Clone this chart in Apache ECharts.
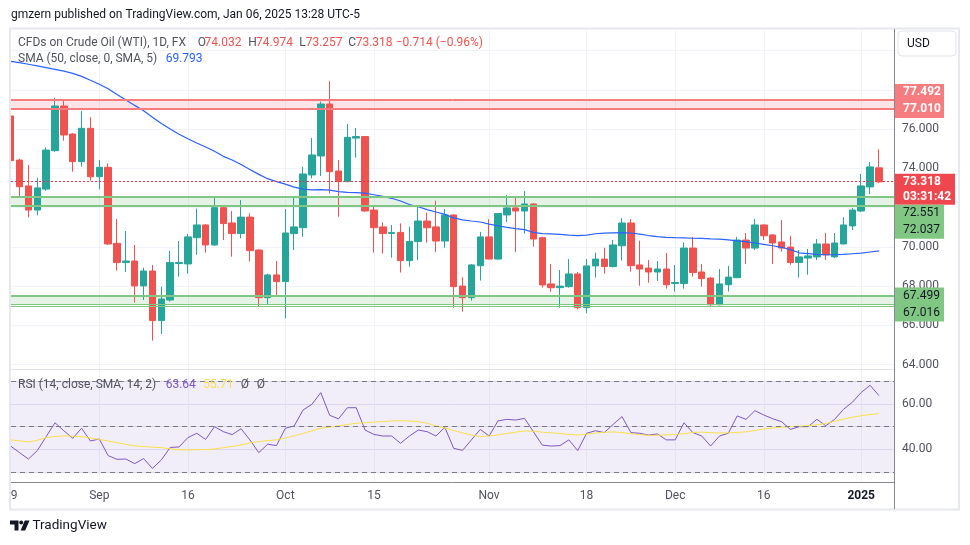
<!DOCTYPE html>
<html><head><meta charset="utf-8">
<script src="https://cdn.jsdelivr.net/npm/echarts/dist/echarts.min.js"></script>
<style>html,body{margin:0;padding:0;background:#fff}#c{width:970px;height:545px}</style>
</head><body><div id="c"></div>
<script>
// ---------------- DATA ----------------
const dates = [
'2024-08-19','2024-08-20','2024-08-21','2024-08-22','2024-08-23','2024-08-26','2024-08-27','2024-08-28','2024-08-29','2024-08-30',
'2024-09-02','2024-09-03','2024-09-04','2024-09-05','2024-09-06','2024-09-09','2024-09-10','2024-09-11','2024-09-12','2024-09-13',
'2024-09-16','2024-09-17','2024-09-18','2024-09-19','2024-09-20','2024-09-23','2024-09-24','2024-09-25','2024-09-26','2024-09-27',
'2024-09-30','2024-10-01','2024-10-02','2024-10-03','2024-10-04','2024-10-07','2024-10-08','2024-10-09','2024-10-10','2024-10-11',
'2024-10-14','2024-10-15','2024-10-16','2024-10-17','2024-10-18','2024-10-21','2024-10-22','2024-10-23','2024-10-24','2024-10-25',
'2024-10-28','2024-10-29','2024-10-30','2024-10-31','2024-11-01','2024-11-04','2024-11-05','2024-11-06','2024-11-07','2024-11-08',
'2024-11-11','2024-11-12','2024-11-13','2024-11-14','2024-11-15','2024-11-18','2024-11-19','2024-11-20','2024-11-21','2024-11-22',
'2024-11-25','2024-11-26','2024-11-27','2024-11-28','2024-11-29','2024-12-02','2024-12-03','2024-12-04','2024-12-05','2024-12-06',
'2024-12-09','2024-12-10','2024-12-11','2024-12-12','2024-12-13','2024-12-16','2024-12-17','2024-12-18','2024-12-19','2024-12-20',
'2024-12-23','2024-12-24','2024-12-26','2024-12-27','2024-12-30','2024-12-31','2025-01-02','2025-01-03','2025-01-06'];

const opens = [
76.68,74.43,73.11,71.88,72.95,74.91,77.19,75.76,74.35,76.05,
73.58,74.06,70.18,69.20,69.28,68.01,68.77,66.24,67.29,69.15,
69.13,70.47,71.12,70.10,72.00,71.22,70.68,71.52,69.84,67.41,
68.57,68.23,70.68,70.98,73.67,74.64,77.29,73.87,73.33,75.55,
75.63,71.88,71.02,70.68,70.74,69.30,70.27,71.32,71.02,70.30,
71.63,68.00,67.41,69.04,70.51,69.38,71.63,71.99,71.83,72.19,
70.47,68.11,67.92,67.97,68.62,66.90,69.03,69.38,69.00,70.06,
71.22,69.08,68.92,68.72,68.87,68.13,68.13,69.94,68.72,68.41,
67.05,68.07,68.43,70.35,69.94,71.12,70.61,70.25,69.99,69.20,
69.43,69.49,70.15,69.49,70.15,71.07,71.83,73.06,74.032];
const highs = [
76.90,74.50,74.18,73.52,75.08,77.61,77.50,75.80,76.93,76.61,
74.43,74.26,71.42,70.81,70.10,68.94,69.08,67.97,69.79,70.30,
70.66,71.95,71.15,72.51,72.05,71.83,72.39,71.71,69.88,68.63,
69.28,71.93,72.51,74.09,75.56,77.41,78.46,74.43,76.27,76.07,
75.66,72.09,71.25,71.12,71.20,71.03,72.05,71.75,72.36,71.93,
71.66,68.45,69.13,70.76,71.42,71.72,72.65,72.60,72.85,72.22,
70.52,69.13,68.82,69.38,68.72,69.38,69.71,69.96,70.35,71.47,
71.42,70.32,69.33,69.28,69.69,69.08,70.22,70.51,69.13,68.46,
68.87,69.03,70.51,70.71,71.42,71.15,70.64,71.37,70.56,69.84,
69.89,70.40,70.71,70.71,71.52,71.99,73.72,74.33,74.974];
const lows = [
74.18,72.56,71.51,71.61,72.87,74.85,75.42,73.84,74.09,73.38,
72.94,70.10,68.79,68.72,67.16,67.29,65.22,65.56,67.21,68.48,
68.64,69.59,69.71,70.05,70.35,69.50,70.44,69.25,66.95,67.04,
67.55,66.36,69.84,70.52,73.50,73.62,72.73,71.54,73.30,74.55,
71.80,69.71,69.66,69.45,68.69,68.99,69.33,70.22,69.74,69.96,
66.90,66.70,67.26,68.28,69.36,69.35,71.27,69.74,70.68,70.01,
67.92,67.72,66.90,67.92,66.81,66.61,68.43,68.64,68.95,69.30,
68.74,68.02,68.17,68.26,67.87,67.72,67.87,68.48,67.97,66.95,
67.02,67.72,68.40,69.13,69.84,70.35,69.13,69.76,69.09,68.43,
68.58,69.33,69.33,69.43,70.13,70.86,71.78,72.70,73.257];
const closes = [
74.40,73.07,71.88,73.01,74.94,77.19,75.71,74.35,76.05,73.58,
74.06,70.15,69.20,69.28,68.01,68.77,66.24,67.34,69.20,69.20,
70.51,71.12,70.10,72.00,71.19,70.68,71.52,69.81,67.41,68.57,
68.23,70.71,71.02,73.72,74.69,77.29,73.84,73.33,75.59,75.63,
71.83,70.98,70.68,70.74,69.30,70.28,71.32,70.98,70.30,71.63,
67.97,67.41,69.08,70.51,69.38,71.70,71.99,71.83,72.19,70.40,
68.06,67.92,68.00,68.62,66.90,69.03,69.38,69.00,70.10,71.22,
69.04,68.87,68.72,68.87,68.07,68.18,69.94,68.69,68.38,67.05,
68.11,68.46,70.35,69.94,71.12,70.57,70.20,69.94,69.20,69.49,
69.54,70.15,69.59,70.20,71.12,71.88,73.11,74.08,73.318];

const sma50 = [
79.47,79.40,79.32,79.24,79.15,79.06,78.97,78.85,78.70,78.50,
78.30,78.07,77.78,77.50,77.22,76.95,76.62,76.30,76.02,75.75,
75.52,75.30,75.10,74.88,74.62,74.43,74.20,73.95,73.70,73.48,
73.33,73.20,73.05,72.95,72.91,72.92,72.90,72.82,72.78,72.77,
72.74,72.66,72.58,72.48,72.34,72.16,72.05,71.90,71.78,71.66,
71.48,71.38,71.32,71.27,71.16,71.08,71.00,70.93,70.88,70.74,
70.68,70.66,70.64,70.60,70.58,70.60,70.67,70.70,70.72,70.73,
70.71,70.65,70.58,70.52,70.49,70.47,70.46,70.44,70.43,70.41,
70.40,70.36,70.31,70.27,70.20,70.13,70.06,69.98,69.86,69.70,
69.66,69.62,69.60,69.60,69.62,69.65,69.68,69.74,69.793];

const rsi = [
41.5,38.6,35.8,39.5,45.6,51.7,48.2,44.9,49.3,43.7,
44.6,37.3,35.7,35.8,33.8,36.0,31.7,35.4,40.9,41.1,
45.2,47.1,44.4,50.0,47.8,46.5,49.1,44.2,38.6,42.3,
41.7,49.3,50.3,57.3,59.8,64.9,55.0,53.4,58.3,58.3,
48.5,46.6,45.9,45.9,42.7,45.9,48.5,47.8,45.9,49.7,
40.5,39.6,44.2,48.8,45.9,52.5,53.2,52.9,53.6,47.8,
41.9,41.5,41.7,44.2,39.5,47.1,48.2,47.4,51.0,54.4,
47.4,47.1,46.3,46.8,44.2,44.2,51.7,47.4,45.9,41.5,
45.9,47.1,54.7,53.2,57.0,55.1,53.5,52.2,48.8,50.0,
50.0,53.2,50.4,53.2,57.6,60.7,65.0,68.1,63.64];
const rsiMa = [
44.2,43.8,43.3,44.0,45.2,45.7,45.9,45.9,45.6,45.0,
44.4,43.7,43.0,42.2,41.6,41.3,41.0,40.8,40.3,39.9,
39.8,39.9,40.0,40.2,40.8,41.3,42.0,42.9,43.4,43.9,
44.2,45.0,46.0,47.0,48.2,49.3,49.8,50.3,50.9,51.5,
51.7,52.0,52.2,52.5,52.6,52.5,52.2,51.5,50.3,49.4,
48.3,47.3,46.3,45.7,45.9,46.4,47.0,47.6,48.1,48.0,
47.6,47.3,47.0,46.6,46.3,46.7,47.2,47.5,47.7,47.4,
46.9,46.5,46.2,46.2,46.4,46.5,46.9,47.5,47.6,47.4,
47.2,47.3,47.5,47.7,48.3,49.0,49.4,49.8,50.0,50.2,
50.4,50.8,51.4,52.3,53.3,54.1,54.8,55.3,55.71];

const tickDates = ['2024-08-19','2024-09-02','2024-09-16','2024-10-01','2024-10-15','2024-11-01','2024-11-18','2024-12-02','2024-12-16','2025-01-02'];
const tickTexts = ['19','Sep','16','Oct','15','Nov','18','Dec','16','2025'];
const priceLabels = [64, 66, 68, 70, 74, 76];
const rsiLabels = [40, 60];
const rsiLevels = [30, 50, 70];
const resistZone = [77.010, 77.492];
const supportZone1 = [72.037, 72.551];
const supportZone2 = [67.016, 67.499];
const lastPrice = 73.318;
const countdown = '03:31:42';
const ohlcText = {O:'74.032', H:'74.974', L:'73.257', C:'73.318', chg:'\u22120.714 (\u22120.96%)'};
const smaValue = '69.793';
const rsiValue = '63.64', rsiMaValue = '55.71';

// ---------------- CHART ----------------
const FONT = 'Roboto, "Noto Sans", sans-serif';
const cats = dates.concat(['']);
const tickIdx = tickDates.map(d => dates.indexOf(d));
const isTick = (i) => tickIdx.indexOf(i) >= 0;
const candleData = dates.map((d, i) => [opens[i], closes[i], lows[i], highs[i]]);

const RED = '#ef5350', TEAL = '#26a69a', GRID = '#f0f3fa';
const REDZ = '#f77c80', GREENZ = '#81c784';

function zoneArea(z, fill) { return [{yAxis: z[0], itemStyle: {color: fill}}, {yAxis: z[1]}]; }
function hline(v, color, w, type) { return {yAxis: v, lineStyle: {color: color, width: w, type: type || 'solid', opacity: 1}}; }

const chart = echarts.init(document.getElementById('c'), null, {renderer: 'canvas'});
const gridBase = {containLabel: false, outerBoundsMode: 'none'};
const option = {
  animation: false,
  backgroundColor: '#ffffff',
  textStyle: {fontFamily: FONT},
  grid: [
    Object.assign({left: 10.7, right: 82.2, top: 29.3, height: 340}, gridBase),
    Object.assign({left: 11, right: 76, top: 50.7, height: 313.8}, gridBase),
    Object.assign({left: 10.7, right: 82.2, top: 369.3, height: 113}, gridBase),
    Object.assign({left: 11, right: 76, top: 381, height: 91.3}, gridBase)
  ],
  xAxis: [
    {gridIndex: 0, type: 'category', data: cats, boundaryGap: false,
     axisLine: {show: false}, axisTick: {show: false}, axisLabel: {show: false},
     splitLine: {show: true, interval: isTick, lineStyle: {color: GRID, width: 1}}},
    {gridIndex: 1, type: 'value', min: 0, max: 1, offset: 4.8,
     axisLine: {show: true, onZero: false, lineStyle: {color: '#e0e3eb', width: 1}},
     axisTick: {show: false}, axisLabel: {show: false}, splitLine: {show: false}},
    {gridIndex: 2, type: 'category', data: cats, boundaryGap: false,
     axisLine: {show: false}, axisTick: {show: false},
     axisLabel: {show: true, interval: isTick, margin: 8, color: '#50535e', fontSize: 12, fontFamily: FONT,
       formatter: (v, i) => { const k = tickIdx.indexOf(i); if (k < 0) return ''; const t = tickTexts[k]; return t === '2025' ? '{b|' + t + '}' : t; },
       rich: {b: {fontWeight: 'bold', color: '#131722', fontSize: 12, fontFamily: FONT}}},
     splitLine: {show: true, interval: isTick, lineStyle: {color: GRID, width: 1}}},
    {gridIndex: 3, type: 'value', min: 0, max: 1, offset: 10,
     axisLine: {show: true, onZero: false, lineStyle: {color: '#868993', width: 1}},
     axisTick: {show: false}, axisLabel: {show: false}, splitLine: {show: false}}
  ],
  yAxis: [
    {gridIndex: 0, type: 'value', min: 63.755, max: 81.102, show: false},
    {gridIndex: 1, type: 'value', min: 64, max: 80, interval: 2, position: 'right',
     axisLine: {show: false}, axisTick: {show: false},
     axisLabel: {margin: 8, color: '#50535e', fontSize: 12, fontFamily: FONT,
       showMinLabel: true, showMaxLabel: true,
       formatter: v => priceLabels.indexOf(v) >= 0 ? v.toFixed(3) : ''},
     splitLine: {show: true, lineStyle: {color: GRID, width: 1}}},
    {gridIndex: 2, type: 'value', min: 25.619, max: 75.126, show: false},
    {gridIndex: 3, type: 'value', min: 30, max: 70, interval: 10, position: 'right',
     axisLine: {show: false}, axisTick: {show: false},
     axisLabel: {margin: 8, color: '#50535e', fontSize: 12, fontFamily: FONT,
       formatter: v => rsiLabels.indexOf(v) >= 0 ? v.toFixed(2) : ''},
     splitLine: {show: true, lineStyle: {color: '#e9e5f3', width: 1}}}
  ],
  series: [
    {name: 'zones', type: 'line', xAxisIndex: 1, yAxisIndex: 1, data: [[0, 70], [1, 70]],
     symbol: 'none', lineStyle: {opacity: 0}, silent: true, clip: false,
     markArea: {silent: true, data: [
       zoneArea(resistZone, 'rgba(242,54,69,0.13)'),
       zoneArea(supportZone1, 'rgba(76,175,80,0.15)'),
       zoneArea(supportZone2, 'rgba(76,175,80,0.15)')
     ]},
     markLine: {silent: true, symbol: 'none', label: {show: false}, data: [
       hline(resistZone[1] + 0.045, REDZ, 1), hline(resistZone[1] - 0.04, REDZ, 1),
       hline(resistZone[0] + 0.05, REDZ, 2.2),
       hline(supportZone1[1], GREENZ, 2.2), hline(supportZone1[0] + 0.03, GREENZ, 2.2),
       hline(supportZone2[1], GREENZ, 2.2),
       hline(supportZone2[0] + 0.06, GREENZ, 1), hline(supportZone2[0] - 0.055, GREENZ, 1),
       hline(lastPrice, '#f23645', 1, [2, 2])
     ]}},
    {name: 'WTI', type: 'candlestick', xAxisIndex: 0, yAxisIndex: 0, data: candleData, barWidth: 7,
     itemStyle: {color: TEAL, color0: RED, borderColor: TEAL, borderColor0: RED, borderWidth: 1}},
    {name: 'SMA50', type: 'line', xAxisIndex: 0, yAxisIndex: 0, data: sma50, symbol: 'none',
     lineStyle: {color: '#2962ff', width: 1.2}},
    {name: 'rsiBg', type: 'line', xAxisIndex: 3, yAxisIndex: 3, data: [[0, 50], [1, 50]],
     symbol: 'none', lineStyle: {opacity: 0}, silent: true, clip: false,
     markArea: {silent: true, data: [[{yAxis: rsiLevels[0], itemStyle: {color: 'rgba(126,87,194,0.1)'}}, {yAxis: rsiLevels[2]}]]},
     markLine: {silent: true, symbol: 'none', label: {show: false},
       data: rsiLevels.map(v => hline(v, '#787b86', 1, [5, 4]))}},
    {name: 'RSI', type: 'line', xAxisIndex: 2, yAxisIndex: 2, data: rsi, symbol: 'none',
     lineStyle: {color: '#7e57c2', width: 1}},
    {name: 'RSI MA', type: 'line', xAxisIndex: 2, yAxisIndex: 2, data: rsiMa, symbol: 'none',
     lineStyle: {color: '#f9e04a', width: 1}}
  ]
};
chart.setOption(option);

// ---------- overlay: frame, legends, price boxes ----------
const py = v => chart.convertToPixel({yAxisIndex: 1}, v);
const G = [];
const txt = (x, y, s, color, size, extra) => G.push(Object.assign({type: 'text', x: x, y: y, z: 120,
  style: Object.assign({text: s, fill: color, fontSize: size || 12, fontFamily: FONT, verticalAlign: 'middle', textAlign: 'left'}, extra || {})}));

// left cover & frame
G.push({type: 'rect', z: 110, shape: {x: 0, y: 29, width: 10.2, height: 481}, style: {fill: '#ffffff'}});
G.push({type: 'rect', z: 111, shape: {x: 10, y: 28.5, width: 949, height: 481}, style: {fill: 'none', stroke: '#e6e8ee', lineWidth: 2}});
G.push({type: 'line', z: 112, shape: {x1: 894.5, y1: 29, x2: 894.5, y2: 509}, style: {stroke: '#868993', lineWidth: 1}});
// USD button
G.push({type: 'rect', z: 112, shape: {x: 898, y: 31, width: 58, height: 25, r: 4}, style: {fill: '#fff', stroke: '#e0e3eb', lineWidth: 1}});
txt(907, 44, 'USD', '#131722', 12);

// title
txt(11, 15, 'gmzern published on TradingView.com, Jan 06, 2025 13:28 UTC-5', '#131722', 12);
// legend line 1
const LG = '#50535e';
txt(18, 43, 'CFDs on Crude Oil (WTI), 1D, FX', LG, 12);
txt(197.7, 43, 'O', LG, 12); txt(204.6, 43, ohlcText.O, RED, 12);
txt(248.3, 43, 'H', LG, 12); txt(256, 43, ohlcText.H, RED, 12);
txt(299.3, 43, 'L', LG, 12); txt(305.7, 43, ohlcText.L, RED, 12);
txt(348.3, 43, 'C', LG, 12); txt(355.7, 43, ohlcText.C, RED, 12);
txt(395.7, 43, ohlcText.chg, RED, 12);
txt(18, 59, 'SMA (50, close, 0, SMA, 5)', LG, 12); txt(165.7, 59, smaValue, '#2962ff', 12);
// RSI legend
txt(18, 385, 'RSI (14, close, SMA, 14, 2)', LG, 12);
txt(165.7, 385, rsiValue, '#7e57c2', 12);
txt(203.3, 385, rsiMaValue, '#f9e04a', 12);
txt(240.7, 385, '\u00d8', LG, 12); txt(256.7, 385, '\u00d8', LG, 12);

// price boxes
function box(top, h, w, fill) { G.push({type: 'rect', z: 115, shape: {x: 895, y: top, width: w, height: h}, style: {fill: fill}}); }
const BX = 903;
let t = py(resistZone[1]) - 16;
box(t, 34, 49, REDZ); txt(BX, t + 8.5, resistZone[1].toFixed(3), '#fff', 12, {fontWeight: 'bold'}); txt(BX, t + 25.5, resistZone[0].toFixed(3), '#fff', 12, {fontWeight: 'bold'});
t = py(lastPrice) - 8;
box(t, 31, 60, '#f0474e'); txt(BX, t + 8.7, lastPrice.toFixed(3), '#fff', 12, {fontWeight: 'bold'}); txt(BX, t + 23, countdown, '#fff', 12, {fontWeight: 'bold'});
t = py(supportZone1[1]) + 8;
box(t, 34, 49, GREENZ); txt(BX, t + 8.5, supportZone1[1].toFixed(3), '#131722', 12); txt(BX, t + 25.5, supportZone1[0].toFixed(3), '#131722', 12);
t = py(supportZone2[1]) - 8.5;
box(t, 34, 49, GREENZ); txt(BX, t + 8.5, supportZone2[1].toFixed(3), '#131722', 12); txt(BX, t + 25.5, supportZone2[0].toFixed(3), '#131722', 12);

// TradingView logo
G.push({type: 'polygon', z: 120, shape: {points: [[10, 520.5], [18.5, 520.5], [18.5, 530.5], [14.5, 530.5], [14.5, 524.5], [10, 524.5]]}, style: {fill: '#131722'}});
G.push({type: 'circle', z: 120, shape: {cx: 21.2, cy: 522.5, r: 2}, style: {fill: '#131722'}});
G.push({type: 'polygon', z: 120, shape: {points: [[24.8, 520.5], [29.5, 520.5], [25.2, 530.5], [20.6, 530.5]]}, style: {fill: '#131722'}});
txt(32.5, 526, 'TradingView', '#131722', 13.5);

chart.setOption({graphic: {elements: G}});
</script></body></html>
